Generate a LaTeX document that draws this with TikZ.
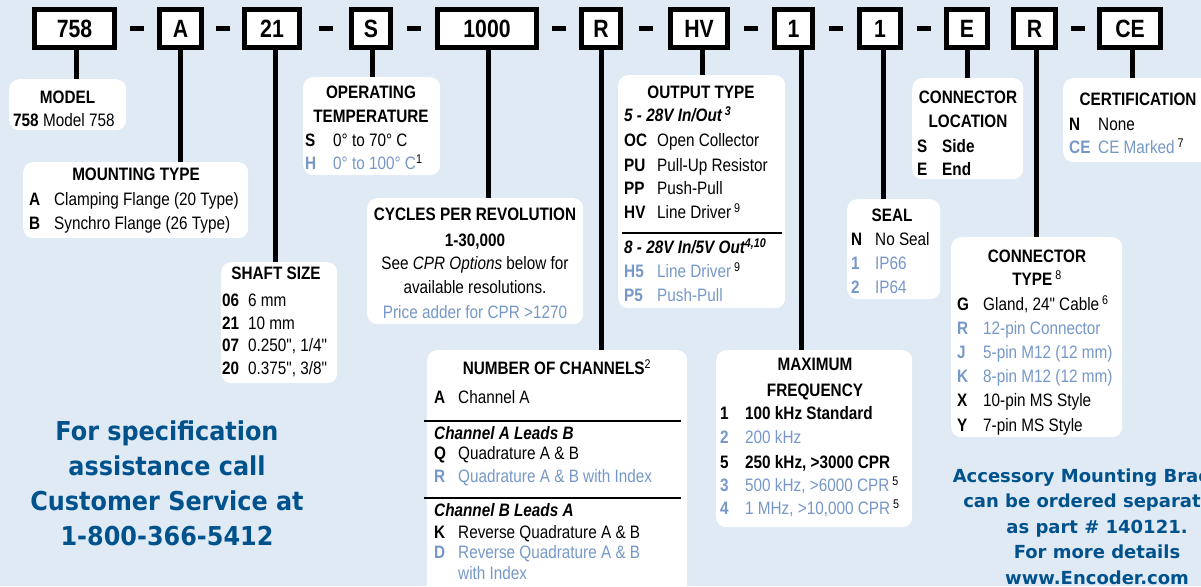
\documentclass[tikz,border=0pt]{standalone}
\usepackage{fontspec}
\setmainfont{Liberation Sans}[FakeStretch=0.85,Ligatures=TeXOff]
\newfontfamily\callfont{DejaVu Sans}[FakeStretch=0.92]
\newfontfamily\notefont{DejaVu Sans}
\usetikzlibrary{calc}
\usepackage{xcolor}
\definecolor{PageBlue}{RGB}{224,234,245}
\definecolor{OptBlue}{RGB}{118,152,200}
\definecolor{CallBlue}{RGB}{0,82,140}
\tikzset{
  codebox/.style={draw=black,line width=5pt,fill=white,inner sep=0pt,
    minimum height=38pt,font=\fontsize{25}{25}\selectfont\bfseries},
  dashbar/.style={line width=5pt},
  lead/.style={line width=5pt},
  infobox/.style={fill=white,rounded corners=10pt,anchor=north west,inner sep=0pt},
  boxtitle/.style={anchor=base,inner sep=0pt,font=\fontsize{18}{22}\selectfont\bfseries},
  keycol/.style={anchor=base west,inner sep=0pt,font=\fontsize{18}{22}\selectfont\bfseries},
  valcol/.style={anchor=base west,inner sep=0pt,font=\fontsize{18}{22}\selectfont},
  subhead/.style={anchor=base west,inner sep=0pt,font=\fontsize{18}{22}\selectfont\bfseries\itshape},
  plainline/.style={anchor=base,inner sep=0pt,font=\fontsize{18}{22}\selectfont},
  rowrule/.style={line width=1.2pt},
  calltext/.style={anchor=base,inner sep=0pt,text=CallBlue,
    font=\callfont\bfseries\fontsize{26}{35}\selectfont},
  notetext/.style={anchor=base,inner sep=0pt,text=CallBlue,
    font=\notefont\bfseries\fontsize{18}{25}\selectfont},
}

\begin{document}
\begin{tikzpicture}[x=1pt,y=-1pt]
  \path[use as bounding box,fill=PageBlue] (0,0) rectangle (1201,586);
  \clip (0,0) rectangle (1201,586);

  % part number boxes
  \foreach \n/\x/\w/\t in {cModel/74.5/80/758, cMount/180.5/42/A, cShaft/272/55/21,
      cTemp/371/39/S, cCpr/487/99/1000, cChan/601/39/R, cOut/699/57/HV,
      cFreq/793.5/38/1, cSeal/880/41/1, cLoc/967/41/E, cType/1034.5/42/R, cCert/1130/61/CE}
    \node[codebox,minimum width=\w pt] (\n) at (\x,28.5) {\t};
  \foreach \a/\b in {cModel/cMount, cMount/cShaft, cShaft/cTemp, cTemp/cCpr, cCpr/cChan,
      cChan/cOut, cOut/cFreq, cFreq/cSeal, cSeal/cLoc, cType/cCert}
    \draw[dashbar] ($(\a.east)!0.5!(\b.west)$) ++(-7,0) -- ++(14,0);

  % option boxes
  \node[infobox,minimum width=117pt,minimum height=51pt] (model) at (9,79) {};
  \node[infobox,minimum width=225pt,minimum height=76pt] (mount) at (23,162) {};
  \node[infobox,minimum width=116pt,minimum height=121pt] (shaft) at (221,262) {};
  \node[infobox,minimum width=137pt,minimum height=98pt] (temp) at (303,77) {};
  \node[infobox,minimum width=216pt,minimum height=126pt] (cpr) at (367,198) {};
  \node[infobox,minimum width=260pt,minimum height=250pt] (chan) at (427,350) {};
  \node[infobox,minimum width=167pt,minimum height=233pt] (out) at (618,75) {};
  \node[infobox,minimum width=196pt,minimum height=177pt] (freq) at (716,350) {};
  \node[infobox,minimum width=93pt,minimum height=100pt] (seal) at (847,199) {};
  \node[infobox,minimum width=111pt,minimum height=101pt] (loc) at (912,78) {};
  \node[infobox,minimum width=171pt,minimum height=200pt] (ctype) at (951,237) {};
  \node[infobox,minimum width=152pt,minimum height=84pt] (cert) at (1063,78) {};

  % leads
  \foreach \c/\b/\s in {cModel/model/1.5, cMount/mount/0, cShaft/shaft/3, cTemp/temp/1,
      cCpr/cpr/1, cChan/chan/0, cOut/out/3, cFreq/freq/7.5, cSeal/seal/3,
      cLoc/loc/0, cType/ctype/1.5, cCert/cert/2}
    \draw[lead] ([xshift=\s pt]\c.south) -- ([xshift=\s pt]\c.south |- \b.north);

  % model
  \node[boxtitle] (modelT) at (67.5,103.5) {MODEL};
  \node[keycol] (modelK) at (13,126.5) {758};
  \node[valcol] (modelV) at (43,126.5) {Model 758};

  % mounting type
  \node[boxtitle] (mountT) at (136,180.5) {MOUNTING TYPE};
  \foreach \r/\k/\v/\c [count=\i] in {205.5/A/{Clamping Flange (20 Type)}/black,
      229.5/B/{Synchro Flange (26 Type)}/black}{
    \node[keycol,text=\c] (mountK\i) at (29,\r) {\k};
    \node[valcol,text=\c] (mountV\i) at (54,\r) {\v};
  }

  % shaft size
  \node[boxtitle] (shaftT) at (276,279.5) {SHAFT SIZE};
  \foreach \r/\k/\v/\c [count=\i] in {306.5/06/{6 mm}/black, 329.5/21/{10 mm}/black,
      351.5/07/{0.250", 1/4"}/black, 374.5/20/{0.375", 3/8"}/black}{
    \node[keycol,text=\c] (shaftK\i) at (222,\r) {\k};
    \node[valcol,text=\c] (shaftV\i) at (248,\r) {\v};
  }

  % operating temperature
  \node[boxtitle] (tempT1) at (371,98.5) {OPERATING};
  \node[boxtitle] (tempT2) at (371,122.5) {TEMPERATURE};
  \foreach \r/\k/\v/\c [count=\i] in {146.5/S/{0° to 70° C}/black,
      169.5/H/{0° to 100° C\textsuperscript{\color{black}1}}/OptBlue}{
    \node[keycol,text=\c] (tempK\i) at (305,\r) {\k};
    \node[valcol,text=\c] (tempV\i) at (333,\r) {\v};
  }

  % cycles per revolution
  \node[boxtitle] (cprT) at (475,220.5) {CYCLES PER REVOLUTION};
  \node[boxtitle] (cprR) at (475,246.5) {1-30,000};
  \node[plainline] (cprL1) at (475,269.5) {See \textit{CPR Options} below for};
  \node[plainline] (cprL2) at (475,293.5) {available resolutions.};
  \node[plainline,text=OptBlue] (cprL3) at (475,318.5) {Price adder for CPR >1270};

  % output type
  \node[boxtitle] (outT) at (701,98.5) {OUTPUT TYPE};
  \node[subhead] (outS1) at (624,121.5) {5 - 28V In/Out\,\textsuperscript{3}};
  \node[subhead] (outS2) at (624,253.5) {8 - 28V In/5V Out\textsuperscript{4,10}};
  \draw[rowrule] (622,233) -- (782,233);
  \foreach \r/\k/\v/\c [count=\i] in {146.5/OC/{Open Collector}/black,
      171.5/PU/{Pull-Up Resistor}/black, 194.5/PP/{Push-Pull}/black,
      218.5/HV/{Line Driver\,\textsuperscript{9}}/black,
      277.5/H5/{Line Driver\,\textsuperscript{\color{black}9}}/OptBlue,
      301.5/P5/{Push-Pull}/OptBlue}{
    \node[keycol,text=\c] (outK\i) at (624,\r) {\k};
    \node[valcol,text=\c] (outV\i) at (657,\r) {\v};
  }

  % number of channels
  \node[boxtitle] (chanT) at (557,374.5) {NUMBER OF CHANNELS\textsuperscript{\normalfont 2}};
  \draw[rowrule] (424,421) -- (681,421);
  \draw[rowrule] (424,498) -- (681,498);
  \node[subhead] (chanS1) at (434,439.5) {Channel A Leads B};
  \node[subhead] (chanS2) at (434,516.5) {Channel B Leads A};
  \foreach \r/\k/\v/\c [count=\i] in {403.5/A/{Channel A}/black,
      459.5/Q/{Quadrature A \& B}/black, 482.5/R/{Quadrature A \& B with Index}/OptBlue,
      538.5/K/{Reverse Quadrature A \& B}/black, 558.5/D/{Reverse Quadrature A \& B}/OptBlue,
      579.5/{}/{with Index}/OptBlue}{
    \node[keycol,text=\c] (chanK\i) at (434,\r) {\k};
    \node[valcol,text=\c] (chanV\i) at (458,\r) {\v};
  }

  % maximum frequency
  \node[boxtitle] (freqT1) at (815,370.5) {MAXIMUM};
  \node[boxtitle] (freqT2) at (815,396.5) {FREQUENCY};
  \foreach \r/\k/\v/\c [count=\i] in {419.5/1/{\textbf{100 kHz Standard}}/black,
      443.5/2/{200 kHz}/OptBlue, 468.5/5/{\textbf{250 kHz, >3000 CPR}}/black,
      491.5/3/{500 kHz, >6000 CPR\,\textsuperscript{\color{black}5}}/OptBlue,
      514.5/4/{1 MHz, >10,000 CPR\,\textsuperscript{\color{black}5}}/OptBlue}{
    \node[keycol,text=\c] (freqK\i) at (720,\r) {\k};
    \node[valcol,text=\c] (freqV\i) at (745,\r) {\v};
  }

  % seal
  \node[boxtitle] (sealT) at (892,221.5) {SEAL};
  \foreach \r/\k/\v/\c [count=\i] in {245.5/N/{No Seal}/black,
      269.5/1/IP66/OptBlue, 293.5/2/IP64/OptBlue}{
    \node[keycol,text=\c] (sealK\i) at (851,\r) {\k};
    \node[valcol,text=\c] (sealV\i) at (875,\r) {\v};
  }

  % connector location
  \node[boxtitle] (locT1) at (968,103.5) {CONNECTOR};
  \node[boxtitle] (locT2) at (968,127.5) {LOCATION};
  \foreach \r/\k/\v/\c [count=\i] in {152.5/S/{\textbf{Side}}/black,
      175.5/E/{\textbf{End}}/black}{
    \node[keycol,text=\c] (locK\i) at (917,\r) {\k};
    \node[valcol,text=\c] (locV\i) at (942,\r) {\v};
  }

  % connector type
  \node[boxtitle] (ctypeT1) at (1037,262.5) {CONNECTOR};
  \node[boxtitle] (ctypeT2) at (1037,285.5) {TYPE\,\textsuperscript{\normalfont 8}};
  \foreach \r/\k/\v/\c [count=\i] in {310.5/G/{Gland, 24" Cable\,\textsuperscript{6}}/black,
      334.5/R/{12-pin Connector}/OptBlue, 358.5/J/{5-pin M12 (12 mm)}/OptBlue,
      382.5/K/{8-pin M12 (12 mm)}/OptBlue, 406.5/X/{10-pin MS Style}/black,
      431.5/Y/{7-pin MS Style}/black}{
    \node[keycol,text=\c] (ctypeK\i) at (957,\r) {\k};
    \node[valcol,text=\c] (ctypeV\i) at (983,\r) {\v};
  }

  % certification
  \node[boxtitle] (certT) at (1138,105.5) {CERTIFICATION};
  \foreach \r/\k/\v/\c [count=\i] in {130.5/N/None/black,
      153.5/CE/{CE Marked\,\textsuperscript{\color{black}7}}/OptBlue}{
    \node[keycol,text=\c] (certK\i) at (1069,\r) {\k};
    \node[valcol,text=\c] (certV\i) at (1098,\r) {\v};
  }

  % notes
  \foreach \t [count=\i] in {For specification, assistance call,
      Customer Service at, 1-800-366-5412}
    \node[calltext] (call\i) at (167,405+35*\i) {\t};
  \foreach \t [count=\i] in {Accessory Mounting Bracket, can be ordered separately,
      as part \# 140121., For more details, www.Encoder.com}
    \node[notetext] (note\i) at (1097,456.5+25.5*\i) {\t};
\end{tikzpicture}
\end{document}
